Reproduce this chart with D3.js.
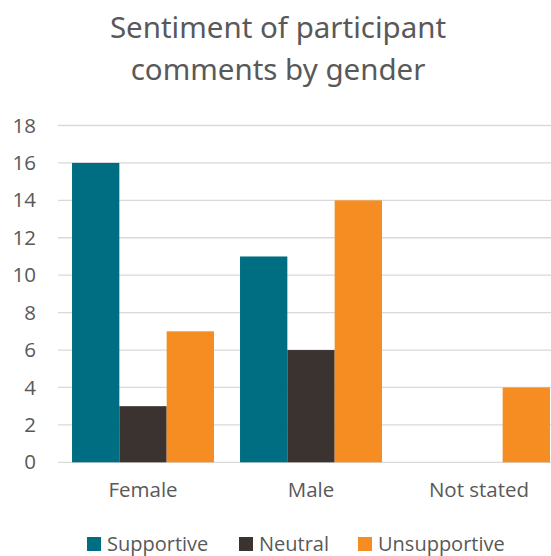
<!DOCTYPE html>
<html>
<head>
<meta charset="utf-8">
<script src="https://cdn.jsdelivr.net/npm/d3@7"></script>
<style>
  html, body { margin: 0; padding: 0; background: #fff; overflow: hidden; }
  svg { display: block; }
</style>
</head>
<body>
<script>
const categories = ["Female", "Male", "Not stated"];
const seriesNames = ["Supportive", "Neutral", "Unsupportive"];
const supportive = [16, 11, 0];
const neutral = [3, 6, 0];
const unsupportive = [7, 14, 4];
const yTicks = [0, 2, 4, 6, 8, 10, 12, 14, 16, 18];
const titleLines = ["Sentiment of participant", "comments by gender"];

const colors = ["#006E82", "#3A3330", "#F68D22"];
const seriesValues = [supportive, neutral, unsupportive];

const W = 551, H = 556;
const svg = d3.select("body").append("svg").attr("width", W).attr("height", H);

const x0 = d3.scaleBand().domain(categories).range([59, 563]).paddingInner(0.155).paddingOuter(0.0775);
const x1 = d3.scaleBand().domain(seriesNames).range([0, x0.bandwidth()]);
const y = d3.scaleLinear().domain([0, 18]).range([462.3, 125.5]);

// gridlines
svg.append("g").selectAll("line").data(yTicks).join("line")
  .attr("x1", 58).attr("x2", 600)
  .attr("y1", d => y(d)).attr("y2", d => y(d))
  .attr("stroke", "#D9D9D9").attr("stroke-width", 1.3);

// bars
const groups = svg.append("g").selectAll("g").data(categories).join("g")
  .attr("transform", d => `translate(${x0(d)},0)`);
groups.selectAll("rect")
  .data((c, i) => seriesNames.map((s, j) => ({ s, j, v: seriesValues[j][i] })))
  .join("rect")
  .attr("x", d => x1(d.s))
  .attr("width", x1.bandwidth())
  .attr("y", d => y(d.v))
  .attr("height", d => y(0) - y(d.v))
  .attr("fill", d => colors[d.j]);

// y axis labels
const yAxis = d3.axisLeft(y).tickValues(yTicks).tickSize(0).tickPadding(0);
const ya = svg.append("g").attr("transform", "translate(36,0)").call(yAxis);
ya.select(".domain").remove();
ya.selectAll("text")
  .attr("font-family", "'Open Sans', sans-serif")
  .attr("font-size", 20.5)
  .attr("fill", "#595959");

// x axis labels
const xAxis = d3.axisBottom(x0).tickSize(0).tickPadding(0);
const xa = svg.append("g").attr("transform", "translate(0,482)").call(xAxis);
xa.select(".domain").remove();
xa.selectAll("text")
  .attr("font-family", "'Open Sans', sans-serif")
  .attr("font-size", 20.5)
  .attr("fill", "#595959");

// title
svg.append("g").selectAll("text").data(titleLines).join("text")
  .attr("x", 278)
  .attr("y", (d, i) => 38 + i * 42)
  .attr("text-anchor", "middle")
  .attr("font-family", "'Noto Sans', sans-serif")
  .attr("font-size", 29.5)
  .attr("fill", "#595959")
  .text(d => d);

// legend
const legendX = [87, 239, 358];
const lg = svg.append("g").selectAll("g").data(seriesNames).join("g")
  .attr("transform", (d, i) => `translate(${legendX[i]},0)`);
lg.append("rect").attr("x", 0).attr("y", 537).attr("width", 14).attr("height", 14)
  .attr("fill", (d, i) => colors[i]);
lg.append("text").attr("x", 20).attr("y", 551)
  .attr("font-family", "'Open Sans', sans-serif")
  .attr("font-size", 20)
  .attr("fill", "#595959")
  .text(d => d);
</script>
</body>
</html>
